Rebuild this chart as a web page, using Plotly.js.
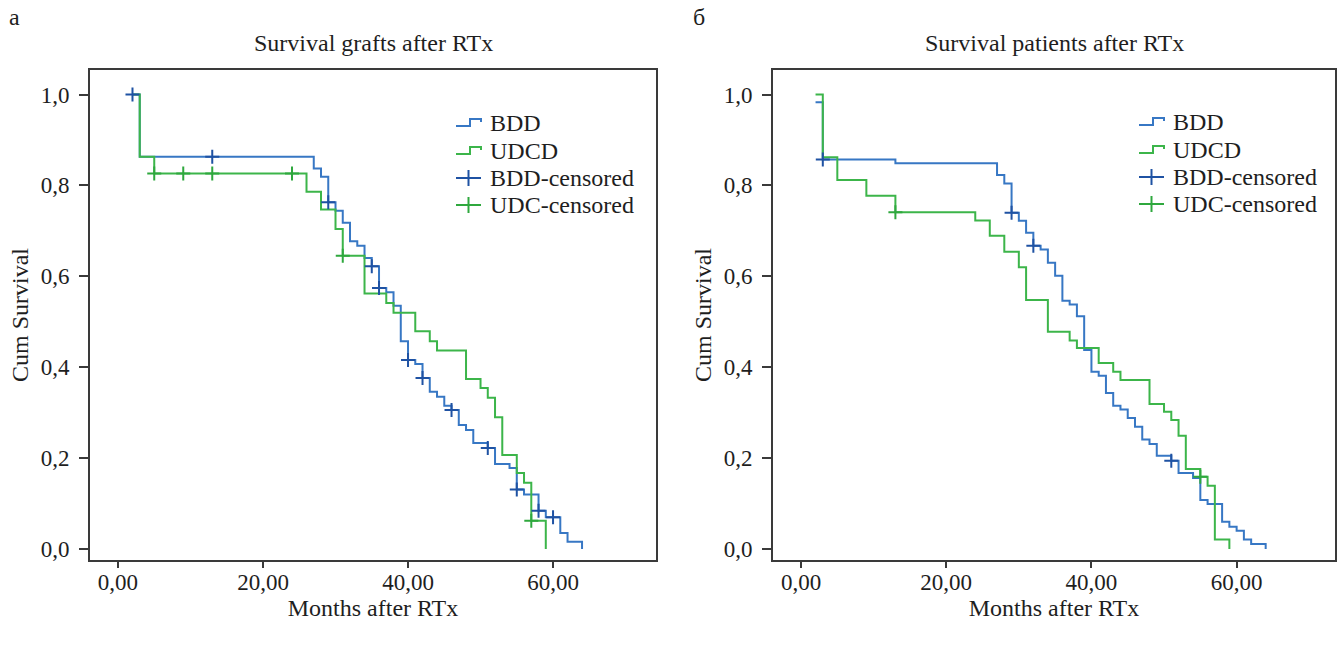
<!DOCTYPE html>
<html>
<head>
<meta charset="utf-8">
<script src="https://cdn.plot.ly/plotly-3.0.1.min.js"></script>
<style>html,body{margin:0;padding:0;background:#fff;}#chart{width:1338px;height:646px;}</style>
</head>
<body>
<div id="chart"></div>
<script>
// ---- Panel а: graft survival ----
const graftBddMonths = [2, 3, 27, 28, 29, 30, 31, 32, 33, 34, 35, 36, 37, 38, 39, 40, 41, 42, 43, 44, 45, 46, 47, 48, 49, 51, 52, 54, 55, 56, 58, 59, 61, 62, 64];
const graftBddSurv   = [1.0, 0.863, 0.837, 0.819, 0.763, 0.744, 0.718, 0.677, 0.667, 0.640, 0.622, 0.574, 0.565, 0.535, 0.457, 0.416, 0.407, 0.376, 0.346, 0.335, 0.315, 0.306, 0.273, 0.262, 0.233, 0.222, 0.187, 0.178, 0.131, 0.12, 0.084, 0.07, 0.035, 0.016, 0.0];
const graftUdcMonths = [2, 3, 5, 26, 28, 30, 31, 34, 37, 38, 41, 43, 44, 48, 50, 51, 52, 53, 55, 56, 57, 59];
const graftUdcSurv   = [1.0, 0.863, 0.826, 0.786, 0.747, 0.704, 0.645, 0.562, 0.541, 0.52, 0.479, 0.457, 0.437, 0.374, 0.354, 0.333, 0.29, 0.207, 0.167, 0.146, 0.062, 0.0];
const graftBddCensMonths = [2, 13, 29, 35, 36, 40, 42, 46, 51, 55, 58, 60];
const graftBddCensSurv   = [1.0, 0.863, 0.763, 0.622, 0.574, 0.416, 0.376, 0.306, 0.222, 0.131, 0.084, 0.07];
const graftUdcCensMonths = [5, 9, 13, 24, 31, 57];
const graftUdcCensSurv   = [0.826, 0.826, 0.826, 0.826, 0.645, 0.062];

// ---- Panel б: patient survival ----
const patBddMonths = [2, 3, 13, 27, 28, 29, 30, 31, 32, 33, 34, 35, 36, 37, 38, 39, 40, 41, 42, 43, 44, 45, 46, 47, 48, 49, 51, 52, 54, 55, 56, 58, 59, 60, 61, 62, 64];
const patBddSurv   = [0.983, 0.857, 0.849, 0.823, 0.804, 0.74, 0.722, 0.696, 0.667, 0.659, 0.63, 0.601, 0.546, 0.538, 0.512, 0.438, 0.39, 0.381, 0.343, 0.315, 0.307, 0.288, 0.269, 0.241, 0.231, 0.205, 0.194, 0.167, 0.156, 0.108, 0.099, 0.06, 0.049, 0.04, 0.021, 0.011, 0.0];
const patUdcMonths = [2, 3, 5, 9, 13, 24, 26, 28, 30, 31, 34, 37, 38, 41, 43, 44, 48, 50, 51, 52, 53, 55, 56, 57, 59];
const patUdcSurv   = [1.0, 0.862, 0.812, 0.777, 0.741, 0.723, 0.689, 0.654, 0.62, 0.548, 0.478, 0.459, 0.442, 0.409, 0.39, 0.372, 0.319, 0.302, 0.284, 0.249, 0.176, 0.159, 0.139, 0.021, 0.0];
const patBddCensMonths = [3, 29, 32, 51];
const patBddCensSurv   = [0.857, 0.74, 0.667, 0.194];
const patUdcCensMonths = [13, 55];
const patUdcCensSurv   = [0.741, 0.159];

const seriesNames = ['BDD', 'UDCD', 'BDD-censored', 'UDC-censored'];
const panelTitles = ['Survival grafts after RTx', 'Survival patients after RTx'];
const panelLetters = ['а', 'б'];
const xTitle = 'Months after RTx';
const yTitle = 'Cum Survival';
const xTickVals = [0, 20, 40, 60];
const yTickVals = [0, 0.2, 0.4, 0.6, 0.8, 1.0];

const BLUE = '#3777c4', BLUE_C = '#1f52a3', GREEN = '#3cb54a', GREEN_C = '#2fa83e';
const seriesColors = [BLUE, GREEN, BLUE_C, GREEN_C];
const FONT = 'Liberation Serif, Times New Roman, serif';
const TXT = '#1e1e1e';

function stepTrace(x, y, name, color, xa, ya) {
  return {x: x, y: y, name: name, type: 'scatter', mode: 'lines', showlegend: false,
    line: {shape: 'hv', color: color, width: 2}, xaxis: xa, yaxis: ya};
}
function censTrace(x, y, name, color, xa, ya) {
  return {x: x, y: y, name: name, type: 'scatter', mode: 'markers', showlegend: false,
    marker: {symbol: 'cross-thin', size: 10, color: color, line: {color: color, width: 2}},
    xaxis: xa, yaxis: ya};
}

const data = [
  stepTrace(graftBddMonths, graftBddSurv, seriesNames[0], BLUE, 'x', 'y'),
  stepTrace(graftUdcMonths, graftUdcSurv, seriesNames[1], GREEN, 'x', 'y'),
  censTrace(graftBddCensMonths, graftBddCensSurv, seriesNames[2], BLUE_C, 'x', 'y'),
  censTrace(graftUdcCensMonths, graftUdcCensSurv, seriesNames[3], GREEN_C, 'x', 'y'),
  stepTrace(patBddMonths, patBddSurv, seriesNames[0], BLUE, 'x2', 'y2'),
  stepTrace(patUdcMonths, patUdcSurv, seriesNames[1], GREEN, 'x2', 'y2'),
  censTrace(patBddCensMonths, patBddCensSurv, seriesNames[2], BLUE_C, 'x2', 'y2'),
  censTrace(patUdcCensMonths, patUdcCensSurv, seriesNames[3], GREEN_C, 'x2', 'y2')
];

const W = 1338, H = 646;
const px = v => v / W, py = v => 1 - v / H;
const yDom = [py(560), py(70)];
function xAxis(dom, anchor, range) {
  return {domain: dom, anchor: anchor, range: range, tickvals: xTickVals, tickformat: '.2f',
    showgrid: false, zeroline: false, showline: true, mirror: true, linecolor: '#3a3a3a', linewidth: 2,
    ticks: 'outside', ticklen: 6, tickwidth: 2, tickcolor: '#3a3a3a', ticklabelstandoff: -6,
    tickfont: {family: FONT, size: 23, color: TXT},
    title: {text: xTitle, font: {family: FONT, size: 24, color: TXT}, standoff: 2}};
}
function yAxis(anchor) {
  return {domain: yDom, anchor: anchor, range: [-0.0242, 1.0539], tickvals: yTickVals, tickformat: '.1f',
    showgrid: false, zeroline: false, showline: true, mirror: true, linecolor: '#3a3a3a', linewidth: 2,
    ticks: 'outside', ticklen: 9, tickwidth: 2, tickcolor: '#3a3a3a', ticklabelstandoff: 5,
    tickfont: {family: FONT, size: 23, color: TXT},
    title: {text: yTitle, font: {family: FONT, size: 24, color: TXT}, standoff: 5}};
}

// hand-drawn legend boxes (step icon for curves, cross for censored marks)
const shapes = [], annotations = [];
function addLegend(iconX, rowsY) {
  rowsY.forEach((y, i) => {
    const c = seriesColors[i];
    if (i < 2) {
      shapes.push({type: 'path', xref: 'paper', yref: 'paper',
        path: `M${px(iconX)},${py(y + 3)} L${px(iconX + 14)},${py(y + 3)} L${px(iconX + 14)},${py(y - 4)} L${px(iconX + 25)},${py(y - 4)} L${px(iconX + 25)},${py(y - 1)}`,
        line: {color: c, width: 2}});
    } else {
      shapes.push({type: 'line', xref: 'paper', yref: 'paper', x0: px(iconX), x1: px(iconX + 25), y0: py(y), y1: py(y), line: {color: c, width: 2}});
      shapes.push({type: 'line', xref: 'paper', yref: 'paper', x0: px(iconX + 12.5), x1: px(iconX + 12.5), y0: py(y - 8), y1: py(y + 8), line: {color: c, width: 2}});
    }
    annotations.push({text: seriesNames[i], xref: 'paper', yref: 'paper', x: px(iconX + 32), y: py(y),
      xanchor: 'left', yanchor: 'middle', showarrow: false, font: {family: FONT, size: 24, color: TXT}});
  });
}
addLegend(456, [123, 151, 178, 205]);
addLegend(1139, [122, 150, 177, 204]);

annotations.push(
  {text: panelTitles[0], xref: 'paper', yref: 'paper', x: px(373), y: py(43), showarrow: false,
   xanchor: 'center', yanchor: 'middle', font: {family: FONT, size: 24, color: TXT}},
  {text: panelTitles[1], xref: 'paper', yref: 'paper', x: px(1054), y: py(43), showarrow: false,
   xanchor: 'center', yanchor: 'middle', font: {family: FONT, size: 24, color: TXT}},
  {text: panelLetters[0], xref: 'paper', yref: 'paper', x: px(7), y: py(17), showarrow: false,
   xanchor: 'left', yanchor: 'middle', font: {family: FONT, size: 24, color: TXT}},
  {text: panelLetters[1], xref: 'paper', yref: 'paper', x: px(691), y: py(17), showarrow: false,
   xanchor: 'left', yanchor: 'middle', font: {family: FONT, size: 24, color: TXT}}
);

const layout = {
  width: W, height: H, margin: {l: 0, r: 0, t: 0, b: 0},
  paper_bgcolor: '#fff', plot_bgcolor: '#fff', separators: ', ', showlegend: false,
  xaxis: xAxis([px(90), px(656)], 'y', [-3.86, 74.2]),
  yaxis: yAxis('x'),
  xaxis2: xAxis([px(773), px(1335)], 'y2', [-3.86, 73.55]),
  yaxis2: yAxis('x2'),
  shapes: shapes,
  annotations: annotations
};

Plotly.newPlot('chart', data, layout, {staticPlot: true, displayModeBar: false});
</script>
</body>
</html>
